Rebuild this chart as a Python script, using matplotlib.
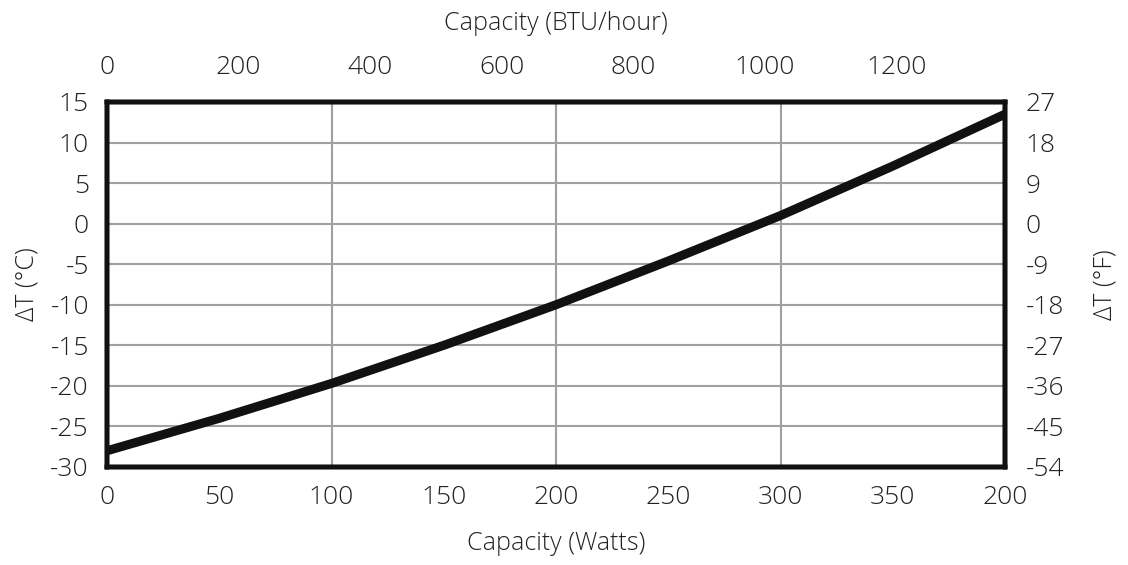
import matplotlib.pyplot as plt

plt.rcParams['font.family'] = ['Open Sans', 'DejaVu Sans']
plt.rcParams['font.weight'] = 'light'
plt.rcParams['axes.labelweight'] = 'light'
plt.rcParams['axes.unicode_minus'] = False

# data
watts = [0, 50, 100, 150, 200, 250, 300, 350, 400]
delta_c = [-28.0, -24.0, -19.7, -15.0, -10.0, -4.6, 1.0, 7.1, 13.5]

watt_ticks = [0, 50, 100, 150, 200, 250, 300, 350, 400]
watt_labels = ['0', '50', '100', '150', '200', '250', '300', '350', '200']
btu_ticks = [0, 200, 400, 600, 800, 1000, 1200]
c_ticks = [15, 10, 5, 0, -5, -10, -15, -20, -25, -30]
f_ticks = [27, 18, 9, 0, -9, -18, -27, -36, -45, -54]

txt = '#222222'
fs = 19
lfs = 18

fig = plt.figure(figsize=(11.28, 5.65), dpi=100)
ax = fig.add_axes([0.0949, 0.1735, 0.7961, 0.646])

ax.plot(watts, delta_c, color='#111111', lw=6.5, solid_capstyle='butt', zorder=3)
ax.set_xlim(0, 400)
ax.set_ylim(-30, 15)

ax.set_xticks(watt_ticks)
ax.set_xticklabels(watt_labels)
ax.set_yticks(c_ticks)
for x in [100, 200, 300]:
    ax.axvline(x, color='#a0a0a0', lw=1.5, zorder=1)
for y in c_ticks[1:-1]:
    ax.axhline(y, color='#a0a0a0', lw=1.5, zorder=1)

ax.tick_params(length=0, labelsize=fs, labelcolor=txt)
ax.tick_params(axis='x', pad=13)
ax.tick_params(axis='y', pad=13)
ax.set_xlabel('Capacity (Watts)', fontsize=lfs, color=txt, labelpad=15)
ax.set_ylabel('ΔT (°C)', fontsize=lfs, color=txt, labelpad=8)

# top axis in BTU/hour
top = ax.twiny()
top.set_xlim(0, 400 * 3.412)
top.set_xticks(btu_ticks)
top.tick_params(length=0, labelsize=fs, labelcolor=txt, pad=16)
top.set_xlabel('Capacity (BTU/hour)', fontsize=lfs, color=txt, labelpad=18)

# right axis in F
right = ax.twinx()
right.set_ylim(-54, 27)
right.set_yticks(f_ticks)
right.tick_params(length=0, labelsize=fs, labelcolor=txt, pad=15)
right.set_ylabel('ΔT (°F)', fontsize=lfs, color=txt, labelpad=20)

for a in [ax, top, right]:
    for s in a.spines.values():
        s.set_linewidth(3.2)
        s.set_color('#111111')

plt.savefig('out.png', dpi=100)
